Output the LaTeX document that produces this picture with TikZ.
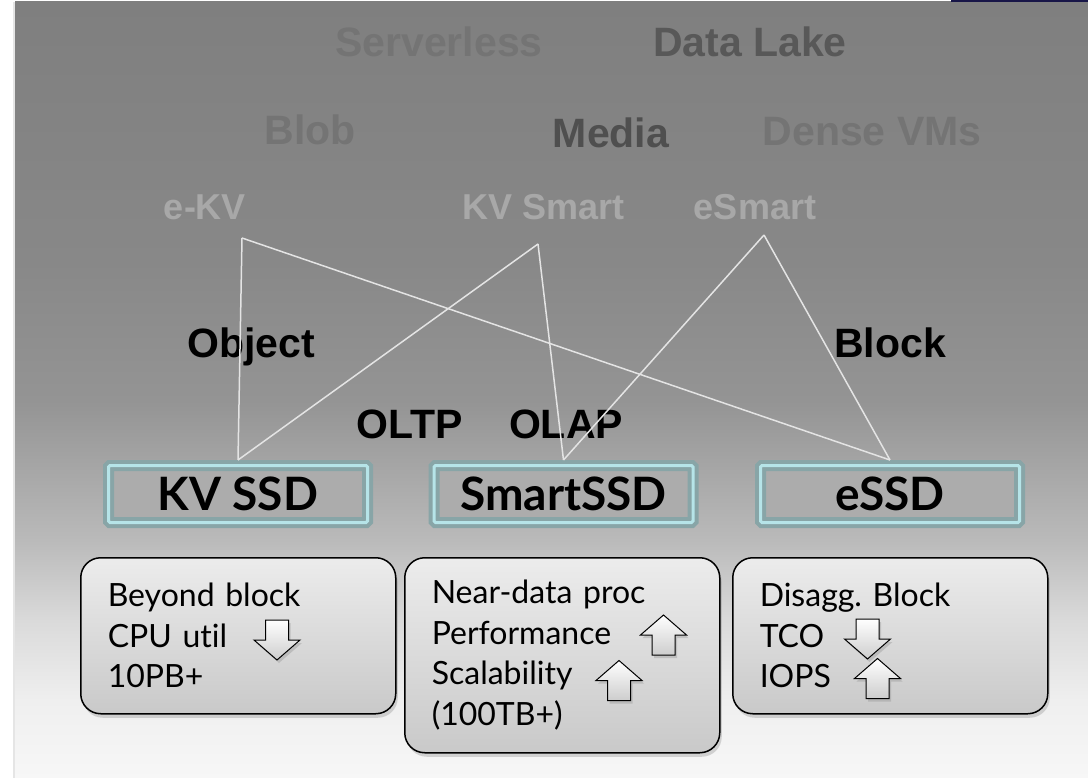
\documentclass[tikz,border=0pt]{standalone}
\usepackage{fontspec}
\setmainfont{Liberation Sans}
\newfontfamily\gill[Ligatures=NoCommon]{Lato}
\usetikzlibrary{shadows, positioning}

\definecolor{bgtop}{RGB}{127,127,127}
\definecolor{bgmid}{RGB}{136,136,136}
\definecolor{bgfour}{RGB}{148,148,148}
\definecolor{bgfive}{RGB}{164,164,164}
\definecolor{bgsix}{RGB}{186,186,186}
\definecolor{bgseven}{RGB}{218,218,218}
\definecolor{bgeight}{RGB}{239,239,239}
\definecolor{bgbot}{RGB}{247,247,247}
\definecolor{navybar}{RGB}{24,22,72}
\definecolor{fadedgray}{RGB}{116,116,116}
\definecolor{darkgray}{RGB}{88,88,88}
\definecolor{lightlabel}{RGB}{168,168,168}
\definecolor{linkgray}{RGB}{228,228,228}
\definecolor{ssdteal}{RGB}{136,165,167}
\definecolor{ssdcyan}{RGB}{182,228,232}
\definecolor{ssdfill}{RGB}{172,172,172}
\definecolor{infotop}{RGB}{236,236,236}
\definecolor{infobot}{RGB}{201,201,201}
\definecolor{arrowgray}{RGB}{205,205,205}

\pgfdeclareverticalshading{slidebg}{100bp}{color(0bp)=(bgbot); color(25bp)=(bgbot);
  color(30bp)=(bgeight); color(35.15bp)=(bgseven); color(40.3bp)=(bgsix);
  color(45.44bp)=(bgfive); color(49.29bp)=(bgfour); color(58.29bp)=(bgmid);
  color(75bp)=(bgtop); color(100bp)=(bgtop)}

\tikzset{
  arrowshape/.style={draw=black, line width=1pt, top color=white, bottom color=arrowgray,
    drop shadow={shadow xshift=2pt, shadow yshift=-3pt, opacity=0.3}},
  uparrow/.pic={\path[arrowshape] (0,-20) -- (23,0) -- (11.5,0) -- (11.5,20) -- (-11.5,20)
    -- (-11.5,0) -- (-23,0) -- cycle;},
  downarrow/.pic={\path[arrowshape] (0,20) -- (23,0) -- (11.5,0) -- (11.5,-20) -- (-11.5,-20)
    -- (-11.5,0) -- (-23,0) -- cycle;}
}

\begin{document}
\begin{tikzpicture}[x=1pt, y=-1pt,
  toplabel/.style={font=\fontsize{41}{48}\selectfont\bfseries, inner sep=0pt, anchor=base},
  smalllabel/.style={font=\fontsize{36}{42}\selectfont\bfseries, inner sep=0pt, anchor=base, text=lightlabel},
  ssdbox/.style={draw=ssdteal, line width=4pt, double=ssdcyan, double distance=3pt, fill=ssdfill,
    rounded corners=1.5pt, minimum width=259pt, minimum height=57pt, outer sep=5.5pt, inner sep=0pt,
    font=\gill\fontsize{46}{52}\selectfont\bfseries},
  infobox/.style={draw=black, line width=1.5pt, rounded corners=20pt, top color=infotop, bottom color=infobot,
    drop shadow={shadow xshift=2pt, shadow yshift=-4pt, opacity=0.3},
    minimum width=315pt, anchor=north west, text width=261pt, align=left, inner xsep=27pt,
    font=\gill\fontsize{32}{40.5}\selectfont},
  link/.style={draw=linkgray, line width=1.5pt}
]
  \useasboundingbox (0,0) rectangle (1088,778);
  % slide background
  \shade[shading=slidebg] (15,2) rectangle (1088,778);
  \draw[black!10, line width=1.5pt] (14,2) -- (14,778);
  \fill[navybar] (951,0) rectangle (1088,2);

  % workloads
  \node[toplabel, text=fadedgray] (serverless) at (439,57) {Serverless};
  \node[toplabel, text=darkgray] (datalake) at (750,57) {Data Lake};
  \node[toplabel, text=fadedgray] (blob) at (310,145) {Blob};
  \node[toplabel, text=darkgray!90!black] (media) at (611,148) {Media};
  \node[toplabel, text=fadedgray] (densevm) at (872,146) {Dense VMs};
  \node[smalllabel] (ekv) at (205,220) {e-KV};
  \node[smalllabel] (kvsmart) at (544,220) {KV Smart};
  \node[smalllabel] (esmart) at (755,220) {eSmart};

  \node[toplabel] (object) at (251,358) {Object};
  \node[toplabel] (block) at (890,357) {Block};
  \node[toplabel] (oltp) at (410,438) {OLTP};
  \node[toplabel] (olap) at (566,438) {OLAP};

  % drives
  \node[ssdbox] (kvssd) at (238,494) {KV SSD};
  \node[ssdbox] (smartssd) at (563.5,494) {SmartSSD};
  \node[ssdbox] (essd) at (890,494) {eSSD};

  \coordinate (ekvtip) at (242,238);
  \coordinate (kvsmarttip) at (538,244);
  \coordinate (esmarttip) at (764,235);
  \draw[link] (ekvtip) -- (kvssd.north);
  \draw[link] (ekvtip) -- (essd.north);
  \draw[link] (kvsmarttip) -- (kvssd.north);
  \draw[link] (kvsmarttip) -- (smartssd.north);
  \draw[link] (esmarttip) -- (smartssd.north);
  \draw[link] (esmarttip) -- (essd.north);

  % benefits
  \node[infobox, minimum height=156pt] (kvinfo) at (80,557) {Beyond block\\CPU util\\10PB+};
  \node[infobox, minimum height=195pt] (smartinfo) at (404,557) {Near-data proc\\Performance\\Scalability\\(100TB+)};
  \node[infobox, minimum height=156pt] (einfo) at (732,557) {Disagg.\ Block\\TCO\\IOPS};

  \pic (cpuarrow) at (277,640) {downarrow};
  \pic (perfarrow) at (663.5,635) {uparrow};
  \pic (scalarrow) at (619,680.5) {uparrow};
  \pic (tcoarrow) at (867.5,639) {downarrow};
  \pic (iopsarrow) at (877.5,678.5) {uparrow};
\end{tikzpicture}
\end{document}
